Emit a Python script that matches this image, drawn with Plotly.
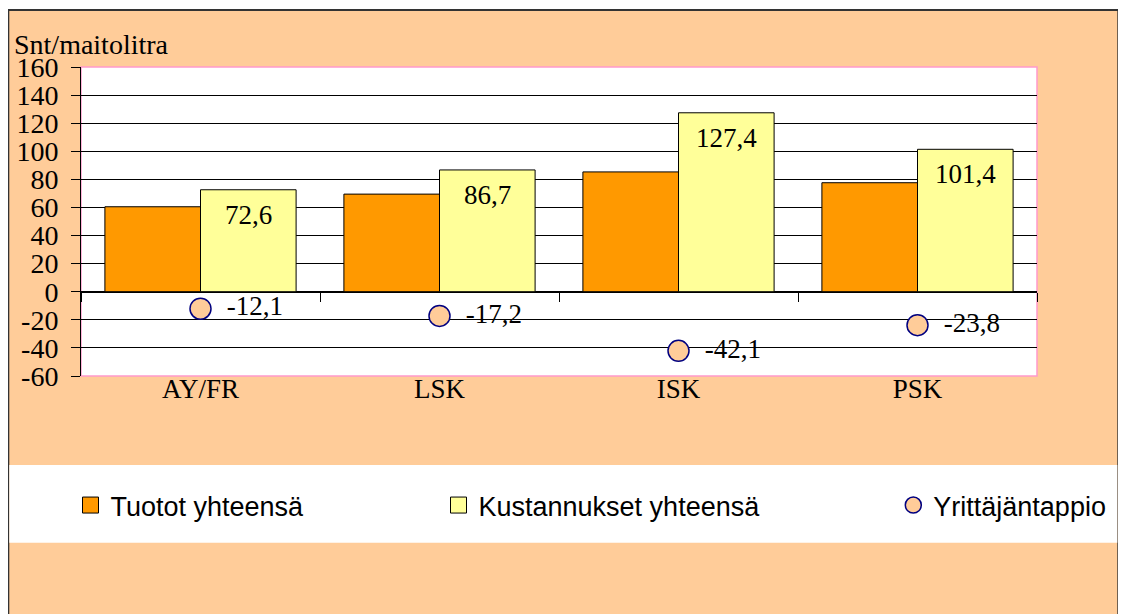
import plotly.graph_objects as go

# ---------------- data ----------------
categories = ["AY/FR", "LSK", "ISK", "PSK"]
tuotot = [60.5, 69.5, 85.3, 77.6]            # Tuotot yhteensä
kustannukset = [72.6, 86.7, 127.4, 101.4]    # Kustannukset yhteensä
tappio = [-12.1, -17.2, -42.1, -23.8]        # Yrittäjäntappio
series_names = ["Tuotot yhteensä", "Kustannukset yhteensä", "Yrittäjäntappio"]
ytick_vals = [-60, -40, -20, 0, 20, 40, 60, 80, 100, 120, 140, 160]
ytick_text = ["-60", "-40", "-20", "0", "20", "40", "60", "80", "100", "120", "140", "160"]
y_title = "Snt/maitolitra"


def fi(v):
    return f"{v:.1f}".replace(".", ",")


# ---------------- layout helpers ----------------
# the page body has an 8px margin, so the figure is drawn 8px smaller and
# reference pixel positions are converted with that offset
OFF = 8
W, H = 1126 - OFF, 614 - OFF
ML, MR, MT, MB = 73, 89, 59, 238
PW, PH = W - ML - MR, H - MT - MB


def px(x):
    return (x - OFF - ML) / PW


def py(y):
    return (H - MB - (y - OFF)) / PH


SERIF = "Liberation Serif"
SANS = "Liberation Sans"
ORANGE, YELLOW, PEACH, NAVY = "#FF9900", "#FFFF99", "#FFCC99", "#000080"
BARGAP = 0.2

fig = go.Figure()

fig.add_trace(go.Bar(x=categories, y=tuotot, name=series_names[0],
                     marker=dict(color=ORANGE, line=dict(color="black", width=1)),
                     showlegend=False, hoverinfo="x+y"))
fig.add_trace(go.Bar(x=categories, y=kustannukset, name=series_names[1],
                     marker=dict(color=YELLOW, line=dict(color="black", width=1)),
                     showlegend=False, hoverinfo="x+y"))
fig.add_trace(go.Scatter(x=categories, y=tappio, name=series_names[2],
                         xaxis="x2", yaxis="y",
                         mode="markers+text",
                         text=["\u00a0\u2009" + fi(v) for v in tappio],
                         textposition="middle right",
                         textfont=dict(family=SERIF, size=27, color="black"),
                         marker=dict(size=21, color=PEACH, line=dict(color=NAVY, width=1.5)),
                         legend="legend3", cliponaxis=False))

# legend entries for the bars (square swatches)
fig.add_trace(go.Scatter(x=[None], y=[None], name=series_names[0], mode="markers",
                         marker=dict(symbol="square", size=16, color=ORANGE,
                                     line=dict(color="black", width=1)),
                         legend="legend"))
fig.add_trace(go.Scatter(x=[None], y=[None], name=series_names[1], mode="markers",
                         marker=dict(symbol="square", size=16, color=YELLOW,
                                     line=dict(color="black", width=1)),
                         legend="legend2"))

annotations = [dict(text=y_title, x=px(12), y=py(44), xref="paper", yref="paper",
                    xanchor="left", yanchor="middle", showarrow=False,
                    font=dict(family=SERIF, size=28, color="black"))]
for i, v in enumerate(kustannukset):
    annotations.append(dict(text=fi(v), x=i + (1 - BARGAP) / 4, y=v, xref="x", yref="y",
                            yshift=-25, xanchor="center", yanchor="middle",
                            showarrow=False,
                            font=dict(family=SERIF, size=27, color="black")))

shapes = [
    # chart area (peach with dark border)
    dict(type="rect", xref="paper", yref="paper", layer="below",
         x0=px(8.3), x1=px(1118.3), y0=py(660), y1=py(10),
         fillcolor=PEACH, line=dict(color="#333333", width=2)),
    # plot area
    dict(type="rect", xref="paper", yref="paper", layer="below",
         x0=0, x1=1, y0=0, y1=1, fillcolor="white",
         line=dict(color="#FF99CC", width=1.5)),
    # legend band
    dict(type="rect", xref="paper", yref="paper", layer="below",
         x0=px(9.3), x1=px(1117.3), y0=py(542.7), y1=py(465),
         fillcolor="white", line=dict(width=0)),
]

leg_common = dict(y=py(505.5), xanchor="left", yanchor="middle", orientation="h",
                  bgcolor="rgba(0,0,0,0)", borderwidth=0,
                  font=dict(family=SANS, size=27, color="black"))

fig.update_layout(
    width=W, height=H,
    margin=dict(l=ML, r=MR, t=MT, b=MB, pad=0, autoexpand=False),
    paper_bgcolor="white", plot_bgcolor="rgba(0,0,0,0)",
    barmode="group", bargap=BARGAP, bargroupgap=0,
    showlegend=True,
    legend=dict(x=px(70.5), **leg_common),
    legend2=dict(x=px(438.5), **leg_common),
    legend3=dict(x=px(893.3), **leg_common),
    xaxis=dict(type="category", categoryarray=categories, categoryorder="array",
               range=[-0.5, 3.5], showline=False, ticks="", showgrid=False,
               zeroline=False, ticklabelstandoff=-6, automargin=False,
               tickfont=dict(family=SERIF, size=27, color="black")),
    xaxis2=dict(type="category", categoryarray=categories, categoryorder="array",
                overlaying="x", anchor="free", position=60 / 220,
                range=[-0.5, 3.5], showline=True, linecolor="black", linewidth=1,
                ticks="outside", tickson="boundaries", ticklen=9, tickcolor="black",
                tickwidth=1, showticklabels=False, showgrid=False, zeroline=False),
    yaxis=dict(range=[-60, 160], tickvals=ytick_vals, ticktext=ytick_text,
               ticks="outside", ticklen=9, tickcolor="black", tickwidth=1,
               showline=True, linecolor="black", linewidth=1,
               showgrid=True, gridcolor="black", gridwidth=1, zeroline=False,
               ticklabelstandoff=7, automargin=False,
               tickfont=dict(family=SERIF, size=28, color="black")),
    annotations=annotations,
    shapes=shapes,
    font=dict(family=SERIF, color="black"),
)

fig.write_html("out.html")
